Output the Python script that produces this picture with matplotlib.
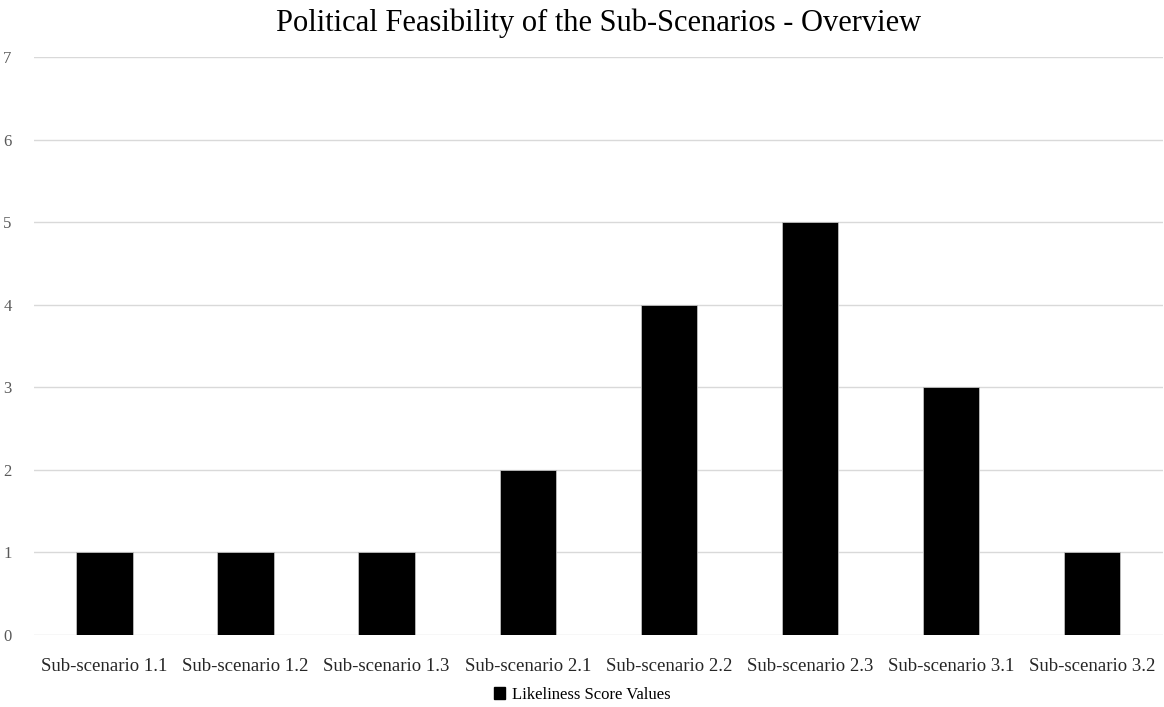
import matplotlib.pyplot as plt
from matplotlib.patches import Patch

categories = ['Sub-scenario 1.1', 'Sub-scenario 1.2', 'Sub-scenario 1.3', 'Sub-scenario 2.1',
              'Sub-scenario 2.2', 'Sub-scenario 2.3', 'Sub-scenario 3.1', 'Sub-scenario 3.2']
scores = [1, 1, 1, 2, 4, 5, 3, 1]

plt.rcParams['font.family'] = ['Liberation Serif', 'DejaVu Serif']

fig = plt.figure(figsize=(11.64, 7.07), dpi=100)
fig.patch.set_facecolor('#ffffff')
ax = fig.add_axes([0.029, 0.102, 0.97, 0.817])

x = range(len(categories))
ax.bar(x, scores, width=0.4, color='#000000', edgecolor='#bfbfbf', linewidth=0.6, zorder=3)

ax.set_xlim(-0.5, len(categories) - 0.5)
ax.set_ylim(0, 7)
ax.set_yticks(range(8))
ax.set_xticks(list(x))
ax.set_xticklabels(categories, fontsize=13.5, color='#262626')
ax.tick_params(axis='y', labelsize=12, labelcolor='#595959', length=0, pad=16)
ax.tick_params(axis='x', length=0, pad=17)
ax.grid(axis='y', color='#d9d9d9', linewidth=1, zorder=0)
for s in ax.spines.values():
    s.set_visible(False)

ax.set_title('Political Feasibility of the Sub-Scenarios - Overview', fontsize=22,
             color='#000000', pad=19)

handle = Patch(facecolor='#000000', edgecolor='#000000')
fig.legend([handle], ['Likeliness Score Values'], loc='center', bbox_to_anchor=(0.5, 0.017),
           frameon=False, fontsize=12, handlelength=0.7, handleheight=0.7, handletextpad=0.4)

fig.savefig('out.png', dpi=100, facecolor='#ffffff')
